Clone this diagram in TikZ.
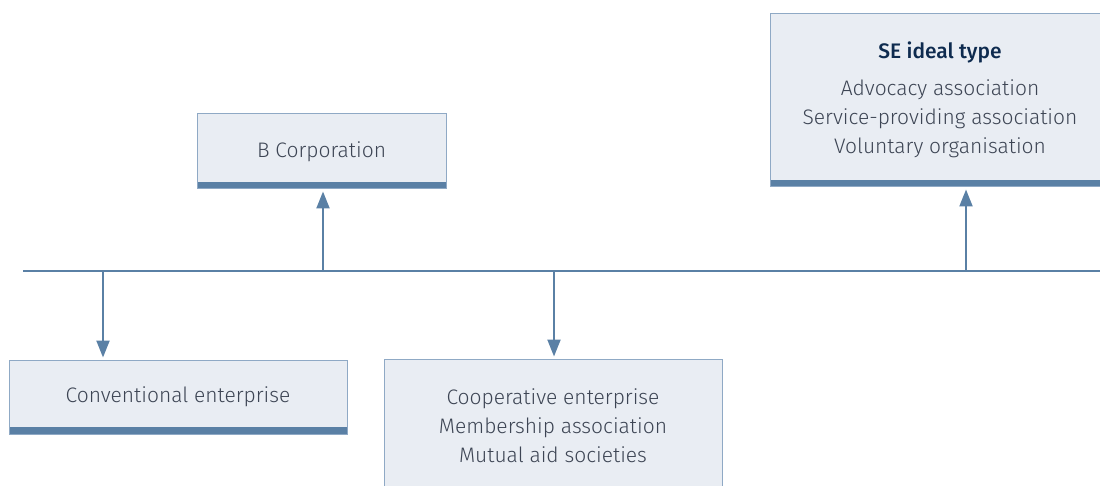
\documentclass[tikz,border=0pt]{standalone}
\usepackage{fontspec}
\setmainfont{Fira Sans}[UprightFont={* Light}, BoldFont={* Medium}]
\usetikzlibrary{arrows.meta}
\definecolor{linecol}{HTML}{5A80A5}
\definecolor{boxfill}{HTML}{E9EDF3}
\definecolor{boxline}{HTML}{8FA9C5}
\definecolor{txt}{HTML}{3D4554}
\definecolor{titlecol}{HTML}{0E2B4F}
\begin{document}
\begin{tikzpicture}[x=1pt,y=-1pt,
  txtfont/.style={font=\fontsize{21}{29}\selectfont},
  boxstyle/.style={draw=boxline, fill=boxfill, line width=1pt, inner sep=0pt,
    align=center, text=txt, txtfont,
    path picture={\fill[linecol] (path picture bounding box.south west) rectangle ([yshift=7pt]path picture bounding box.south east);}},
  listtext/.style={text=txt, txtfont, align=center, anchor=north},
  conn/.style={draw=linecol, line width=2.2pt},
  arr/.style={conn, -{Triangle[width=13pt,length=17pt]}, shorten >=2pt}]
\useasboundingbox (0,0) rectangle (1100,486);
\clip (0,0) rectangle (1100,486);
% boxes
\node[boxstyle, minimum width=340pt, minimum height=173pt] (se) at (940,100.5) {};
\node[text=titlecol, font=\fontsize{21}{29}\selectfont\bfseries] (setitle) at (940,52) {SE ideal type};
\node[listtext] (selist) at (940,76.5) {Advocacy association\\Service-providing association\\Voluntary organisation};
\node[boxstyle, minimum width=249pt, minimum height=75pt] (bcorp) at (321.5,151.5) {B Corporation};
\node[boxstyle, minimum width=338pt, minimum height=74pt] (conv) at (178,397) {Conventional enterprise};
\node[boxstyle, minimum width=338pt, minimum height=160pt] (coop) at (553,439) {};
\node[listtext] (coopl) at (553,385) {Cooperative enterprise\\Membership association\\Mutual aid societies};
% line
\coordinate (lineL) at (23,271);
\coordinate (lineR) at (1102,271);
\draw[conn] (lineL) -- (lineR);
\coordinate (j1) at (103,271);
\coordinate (j2) at (323,271);
\coordinate (j3) at (554,271);
\coordinate (j4) at (966,271);
\draw[arr] (j1) -- (conv.north -| j1);
\draw[arr] (j2) -- (bcorp.south -| j2);
\draw[arr] (j3) -- (coop.north -| j3);
\draw[arr] (j4) -- (se.south -| j4);
\end{tikzpicture}
\end{document}
